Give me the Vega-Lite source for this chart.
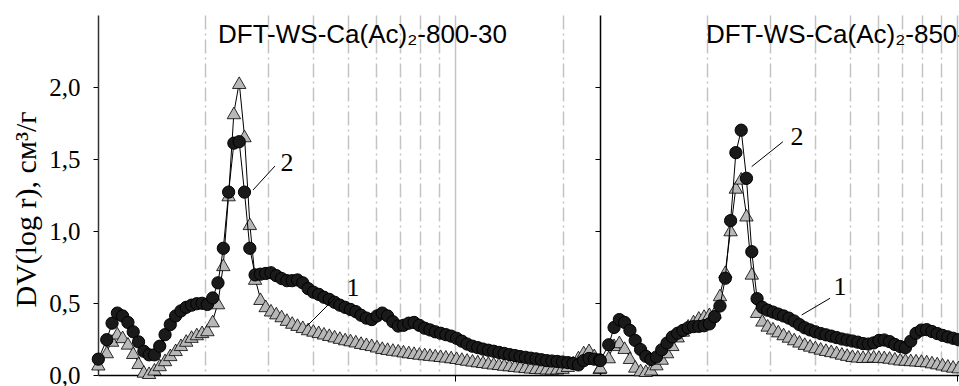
{
"$schema": "https://vega.github.io/schema/vega-lite/v6.json",
"autosize": {"type": "none"},
"padding": {"left": 98, "top": 15, "right": 861, "bottom": 371},
"background": "white",
"spacing": 0,
"bounds": "flush",
"config": {"view": {"stroke": null}},
"datasets": {
"L1": [{"x":1.002,"y":0.075},{"x":1.058,"y":0.16},{"x":1.095,"y":0.24},{"x":1.133,"y":0.29},{"x":1.172,"y":0.265},{"x":1.213,"y":0.22},{"x":1.255,"y":0.155},{"x":1.299,"y":0.085},{"x":1.344,"y":0.025},{"x":1.390,"y":0.016},{"x":1.439,"y":0.04},{"x":1.489,"y":0.07},{"x":1.541,"y":0.105},{"x":1.594,"y":0.14},{"x":1.650,"y":0.175},{"x":1.707,"y":0.21},{"x":1.766,"y":0.24},{"x":1.828,"y":0.267},{"x":1.891,"y":0.285},{"x":1.957,"y":0.30},{"x":2.025,"y":0.313},{"x":2.095,"y":0.375},{"x":2.168,"y":0.50},{"x":2.244,"y":0.765},{"x":2.322,"y":1.25},{"x":2.402,"y":1.82},{"x":2.486,"y":2.03},{"x":2.572,"y":1.66},{"x":2.662,"y":1.05},{"x":2.754,"y":0.67},{"x":2.850,"y":0.53},{"x":2.949,"y":0.48},{"x":3.052,"y":0.45},{"x":3.158,"y":0.43},{"x":3.268,"y":0.41},{"x":3.381,"y":0.385},{"x":3.499,"y":0.365},{"x":3.620,"y":0.35},{"x":3.746,"y":0.335},{"x":3.877,"y":0.32},{"x":4.011,"y":0.31},{"x":4.151,"y":0.30},{"x":4.295,"y":0.29},{"x":4.445,"y":0.28},{"x":4.599,"y":0.27},{"x":4.759,"y":0.26},{"x":4.924,"y":0.25},{"x":5.096,"y":0.243},{"x":5.273,"y":0.235},{"x":5.456,"y":0.225},{"x":5.646,"y":0.217},{"x":5.843,"y":0.21},{"x":6.045,"y":0.20},{"x":6.255,"y":0.19},{"x":6.473,"y":0.183},{"x":6.698,"y":0.177},{"x":6.931,"y":0.172},{"x":7.172,"y":0.166},{"x":7.421,"y":0.16},{"x":7.679,"y":0.155},{"x":7.946,"y":0.15},{"x":8.223,"y":0.146},{"x":8.508,"y":0.142},{"x":8.804,"y":0.138},{"x":9.110,"y":0.134},{"x":9.427,"y":0.13},{"x":9.755,"y":0.125},{"x":10.10,"y":0.12},{"x":10.45,"y":0.114},{"x":10.81,"y":0.108},{"x":11.19,"y":0.102},{"x":11.58,"y":0.097},{"x":11.98,"y":0.092},{"x":12.40,"y":0.087},{"x":12.83,"y":0.082},{"x":13.27,"y":0.078},{"x":13.73,"y":0.073},{"x":14.21,"y":0.069},{"x":14.71,"y":0.065},{"x":15.22,"y":0.061},{"x":15.75,"y":0.057},{"x":16.29,"y":0.054},{"x":16.86,"y":0.051},{"x":17.45,"y":0.049},{"x":18.05,"y":0.047},{"x":18.68,"y":0.046},{"x":19.33,"y":0.047},{"x":20.00,"y":0.052},{"x":20.70,"y":0.065},{"x":21.42,"y":0.09},{"x":22.16,"y":0.125},{"x":22.93,"y":0.16},{"x":23.73,"y":0.175},{"x":24.55,"y":0.14},{"x":25.41,"y":0.05}],
"L2": [{"x":1.002,"y":0.11},{"x":1.058,"y":0.245},{"x":1.095,"y":0.36},{"x":1.133,"y":0.43},{"x":1.172,"y":0.41},{"x":1.213,"y":0.365},{"x":1.255,"y":0.30},{"x":1.299,"y":0.23},{"x":1.344,"y":0.165},{"x":1.390,"y":0.14},{"x":1.439,"y":0.14},{"x":1.489,"y":0.20},{"x":1.541,"y":0.28},{"x":1.594,"y":0.35},{"x":1.650,"y":0.41},{"x":1.707,"y":0.445},{"x":1.766,"y":0.47},{"x":1.828,"y":0.485},{"x":1.891,"y":0.495},{"x":1.957,"y":0.498},{"x":2.025,"y":0.49},{"x":2.095,"y":0.535},{"x":2.168,"y":0.64},{"x":2.244,"y":0.88},{"x":2.322,"y":1.27},{"x":2.402,"y":1.61},{"x":2.486,"y":1.62},{"x":2.572,"y":1.27},{"x":2.662,"y":0.88},{"x":2.754,"y":0.695},{"x":2.850,"y":0.70},{"x":2.949,"y":0.705},{"x":3.052,"y":0.71},{"x":3.158,"y":0.69},{"x":3.268,"y":0.67},{"x":3.381,"y":0.655},{"x":3.499,"y":0.655},{"x":3.620,"y":0.66},{"x":3.746,"y":0.64},{"x":3.877,"y":0.60},{"x":4.011,"y":0.575},{"x":4.151,"y":0.56},{"x":4.295,"y":0.54},{"x":4.445,"y":0.525},{"x":4.599,"y":0.505},{"x":4.759,"y":0.485},{"x":4.924,"y":0.47},{"x":5.096,"y":0.455},{"x":5.273,"y":0.44},{"x":5.456,"y":0.415},{"x":5.646,"y":0.395},{"x":5.843,"y":0.385},{"x":6.045,"y":0.41},{"x":6.255,"y":0.43},{"x":6.473,"y":0.41},{"x":6.698,"y":0.37},{"x":6.931,"y":0.34},{"x":7.172,"y":0.345},{"x":7.421,"y":0.36},{"x":7.679,"y":0.365},{"x":7.946,"y":0.345},{"x":8.223,"y":0.325},{"x":8.508,"y":0.313},{"x":8.804,"y":0.30},{"x":9.110,"y":0.29},{"x":9.427,"y":0.28},{"x":9.755,"y":0.27},{"x":10.10,"y":0.255},{"x":10.45,"y":0.235},{"x":10.81,"y":0.215},{"x":11.19,"y":0.20},{"x":11.58,"y":0.19},{"x":11.98,"y":0.18},{"x":12.40,"y":0.172},{"x":12.83,"y":0.165},{"x":13.27,"y":0.157},{"x":13.73,"y":0.15},{"x":14.21,"y":0.142},{"x":14.71,"y":0.135},{"x":15.22,"y":0.128},{"x":15.75,"y":0.123},{"x":16.29,"y":0.117},{"x":16.86,"y":0.112},{"x":17.45,"y":0.106},{"x":18.05,"y":0.10},{"x":18.68,"y":0.097},{"x":19.33,"y":0.094},{"x":20.00,"y":0.09},{"x":20.70,"y":0.086},{"x":21.42,"y":0.08},{"x":22.16,"y":0.07},{"x":22.93,"y":0.10},{"x":23.73,"y":0.115},{"x":24.55,"y":0.11},{"x":25.41,"y":0.105}],
"R1": [{"x":1.002,"y":0.055},{"x":1.058,"y":0.125},{"x":1.095,"y":0.21},{"x":1.133,"y":0.23},{"x":1.172,"y":0.19},{"x":1.213,"y":0.12},{"x":1.255,"y":0.06},{"x":1.299,"y":0.035},{"x":1.344,"y":0.03},{"x":1.390,"y":0.04},{"x":1.439,"y":0.076},{"x":1.489,"y":0.115},{"x":1.541,"y":0.16},{"x":1.594,"y":0.21},{"x":1.650,"y":0.27},{"x":1.707,"y":0.31},{"x":1.766,"y":0.345},{"x":1.828,"y":0.375},{"x":1.891,"y":0.40},{"x":1.957,"y":0.413},{"x":2.025,"y":0.425},{"x":2.095,"y":0.435},{"x":2.168,"y":0.556},{"x":2.244,"y":0.717},{"x":2.322,"y":1.007},{"x":2.402,"y":1.303},{"x":2.486,"y":1.366},{"x":2.572,"y":1.11},{"x":2.662,"y":0.706},{"x":2.754,"y":0.44},{"x":2.850,"y":0.38},{"x":2.949,"y":0.345},{"x":3.052,"y":0.325},{"x":3.158,"y":0.305},{"x":3.268,"y":0.285},{"x":3.381,"y":0.268},{"x":3.499,"y":0.25},{"x":3.620,"y":0.234},{"x":3.746,"y":0.218},{"x":3.877,"y":0.206},{"x":4.011,"y":0.195},{"x":4.151,"y":0.185},{"x":4.295,"y":0.176},{"x":4.445,"y":0.168},{"x":4.599,"y":0.16},{"x":4.759,"y":0.15},{"x":4.924,"y":0.142},{"x":5.096,"y":0.134},{"x":5.273,"y":0.13},{"x":5.456,"y":0.127},{"x":5.646,"y":0.128},{"x":5.843,"y":0.13},{"x":6.045,"y":0.128},{"x":6.255,"y":0.126},{"x":6.473,"y":0.122},{"x":6.698,"y":0.116},{"x":6.931,"y":0.11},{"x":7.172,"y":0.108},{"x":7.421,"y":0.105},{"x":7.679,"y":0.103},{"x":7.946,"y":0.10},{"x":8.223,"y":0.097},{"x":8.508,"y":0.09},{"x":8.804,"y":0.083},{"x":9.110,"y":0.075},{"x":9.427,"y":0.067},{"x":9.755,"y":0.06},{"x":10.10,"y":0.055}],
"R2": [{"x":1.002,"y":0.10},{"x":1.058,"y":0.21},{"x":1.095,"y":0.33},{"x":1.133,"y":0.385},{"x":1.172,"y":0.365},{"x":1.213,"y":0.31},{"x":1.255,"y":0.24},{"x":1.299,"y":0.177},{"x":1.344,"y":0.13},{"x":1.390,"y":0.108},{"x":1.439,"y":0.125},{"x":1.489,"y":0.175},{"x":1.541,"y":0.222},{"x":1.594,"y":0.264},{"x":1.650,"y":0.29},{"x":1.707,"y":0.31},{"x":1.766,"y":0.328},{"x":1.828,"y":0.336},{"x":1.891,"y":0.338},{"x":1.957,"y":0.342},{"x":2.025,"y":0.355},{"x":2.095,"y":0.405},{"x":2.168,"y":0.479},{"x":2.244,"y":0.672},{"x":2.322,"y":1.072},{"x":2.402,"y":1.544},{"x":2.486,"y":1.70},{"x":2.572,"y":1.366},{"x":2.662,"y":0.856},{"x":2.754,"y":0.53},{"x":2.850,"y":0.47},{"x":2.949,"y":0.45},{"x":3.052,"y":0.437},{"x":3.158,"y":0.423},{"x":3.268,"y":0.41},{"x":3.381,"y":0.395},{"x":3.499,"y":0.375},{"x":3.620,"y":0.35},{"x":3.746,"y":0.328},{"x":3.877,"y":0.313},{"x":4.011,"y":0.30},{"x":4.151,"y":0.288},{"x":4.295,"y":0.279},{"x":4.445,"y":0.27},{"x":4.599,"y":0.26},{"x":4.759,"y":0.25},{"x":4.924,"y":0.243},{"x":5.096,"y":0.236},{"x":5.273,"y":0.228},{"x":5.456,"y":0.218},{"x":5.646,"y":0.215},{"x":5.843,"y":0.223},{"x":6.045,"y":0.24},{"x":6.255,"y":0.243},{"x":6.473,"y":0.232},{"x":6.698,"y":0.212},{"x":6.931,"y":0.198},{"x":7.172,"y":0.19},{"x":7.421,"y":0.235},{"x":7.679,"y":0.29},{"x":7.946,"y":0.312},{"x":8.223,"y":0.315},{"x":8.508,"y":0.302},{"x":8.804,"y":0.288},{"x":9.110,"y":0.275},{"x":9.427,"y":0.265},{"x":9.755,"y":0.255},{"x":10.10,"y":0.245}],
"LA": [{"x":2.718,"y":1.285,"x2":3.131,"y2":1.451},{"x":3.849,"y":0.34,"x2":4.611,"y2":0.535}],
"LT": [{"x":3.383,"y":1.472,"label":"2"},{"x":5.18,"y":0.604,"label":"1"}],
"RA": [{"x":2.66,"y":1.447,"x2":3.254,"y2":1.62},{"x":3.673,"y":0.417,"x2":4.41,"y2":0.533}],
"RT": [{"x":3.563,"y":1.653,"label":"2"},{"x":4.702,"y":0.611,"label":"1"}]
},
"hconcat": [
{
"width": 502, "height": 360,
"title": {"text": "DFT-WS-Ca(Ac)₂-800-30", "anchor": "start", "frame": "group", "orient": "top", "offset": 0, "dx": 120, "dy": 54, "baseline": "alphabetic", "font": "Liberation Sans", "fontSize": 26, "fontWeight": "normal", "color": "black"},
"encoding": {
"x": {"field": "x", "type": "quantitative", "scale": {"type": "log", "domain": [1, 25.47], "nice": false},
"axis": {"values": [2,3,4,5,6,7,8,9,10,20], "labels": false, "title": null, "grid": true, "gridColor": "#c4c4c4", "gridWidth": 1.5,
"gridDash": {"condition": {"test": "datum.value === 10", "value": []}, "value": [14,4,2,4]},
"tickColor": "black", "tickSize": 6, "tickOpacity": {"condition": {"test": "datum.value === 10", "value": 1}, "value": 0},
"domainColor": "black", "domainWidth": 1.5}},
"y": {"field": "y", "type": "quantitative", "scale": {"domain": [0, 2.5], "nice": false},
"axis": {"values": [0,0.5,1,1.5,2], "labelExpr": "replace(format(datum.value, '.1f'), '.', ',')", "labelFont": "Liberation Serif", "labelFontSize": 25, "labelColor": "black", "labelPadding": 13, "tickSize": 5, "tickColor": "black", "domainColor": "#333333", "domainWidth": 1.5, "grid": false,
"title": "DV(log r), см³/г", "titleFont": "Liberation Serif", "titleFontSize": 30, "titleFontWeight": "normal", "titleColor": "black", "titlePadding": 7, "titleY": 194}}
},
"layer": [
{"data": {"name": "L1"}, "mark": {"type": "line", "color": "black", "strokeWidth": 1}, "encoding": {}},
{"data": {"name": "L1"}, "mark": {"type": "point", "shape": "triangle-up", "filled": true, "fill": "#b8b8b8", "stroke": "black", "strokeWidth": 0.8, "size": 180, "opacity": 1}},
{"data": {"name": "L2"}, "mark": {"type": "line", "color": "black", "strokeWidth": 1}, "encoding": {}},
{"data": {"name": "L2"}, "mark": {"type": "point", "shape": "circle", "filled": true, "fill": "#1a1a1a", "stroke": "black", "strokeWidth": 1, "size": 150, "opacity": 1}},
{"data": {"name": "LA"}, "mark": {"type": "rule", "color": "black", "strokeWidth": 1}, "encoding": {"x2": {"field": "x2"}, "y2": {"field": "y2"}}},
{"data": {"name": "LT"}, "mark": {"type": "text", "font": "Liberation Serif", "fontSize": 26, "color": "black", "align": "center", "baseline": "middle"}, "encoding": {"text": {"field": "label"}}}
]
},
{
"width": 359, "height": 360,
"title": {"text": "DFT-WS-Ca(Ac)₂-850-30", "anchor": "start", "frame": "group", "orient": "top", "offset": 0, "dx": 106, "dy": 54, "baseline": "alphabetic", "font": "Liberation Sans", "fontSize": 26, "fontWeight": "normal", "color": "black"},
"encoding": {
"x": {"field": "x", "type": "quantitative", "scale": {"type": "log", "domain": [1, 10.13], "nice": false},
"axis": {"values": [2,3,4,5,6,7,8,9,10], "labels": false, "title": null, "grid": true, "gridColor": "#c4c4c4", "gridWidth": 1.5,
"gridDash": {"condition": {"test": "datum.value === 10", "value": []}, "value": [14,4,2,4]},
"tickColor": "black", "tickSize": 6, "tickOpacity": {"condition": {"test": "datum.value === 10", "value": 1}, "value": 0},
"domainColor": "black", "domainWidth": 1.5}},
"y": {"field": "y", "type": "quantitative", "scale": {"domain": [0, 2.5], "nice": false},
"axis": {"values": [0,0.5,1,1.5,2], "labels": false, "title": null, "tickSize": 5, "tickColor": "black", "domainColor": "black", "domainWidth": 1.5, "grid": false}}
},
"layer": [
{"data": {"name": "R1"}, "mark": {"type": "line", "color": "black", "strokeWidth": 1}, "encoding": {}},
{"data": {"name": "R1"}, "mark": {"type": "point", "shape": "triangle-up", "filled": true, "fill": "#b8b8b8", "stroke": "black", "strokeWidth": 0.8, "size": 180, "opacity": 1}},
{"data": {"name": "R2"}, "mark": {"type": "line", "color": "black", "strokeWidth": 1}, "encoding": {}},
{"data": {"name": "R2"}, "mark": {"type": "point", "shape": "circle", "filled": true, "fill": "#1a1a1a", "stroke": "black", "strokeWidth": 1, "size": 150, "opacity": 1}},
{"data": {"name": "RA"}, "mark": {"type": "rule", "color": "black", "strokeWidth": 1}, "encoding": {"x2": {"field": "x2"}, "y2": {"field": "y2"}}},
{"data": {"name": "RT"}, "mark": {"type": "text", "font": "Liberation Serif", "fontSize": 26, "color": "black", "align": "center", "baseline": "middle"}, "encoding": {"text": {"field": "label"}}}
]
}
]
}
